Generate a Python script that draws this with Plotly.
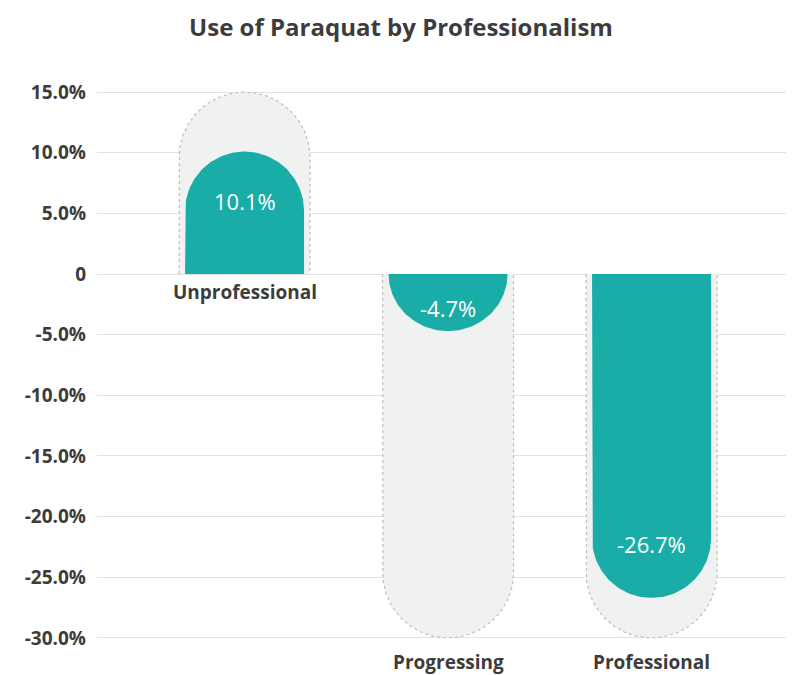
import numpy as np
import plotly.graph_objects as go

# ---- data ----
categories = ["Unprofessional", "Progressing", "Professional"]
values = [10.1, -4.7, -26.7]
value_labels = ["10.1%", "-4.7%", "-26.7%"]
tick_vals = [15, 10, 5, 0, -5, -10, -15, -20, -25, -30]
tick_text = ["15.0%", "10.0%", "5.0%", "0", "-5.0%", "-10.0%",
             "-15.0%", "-20.0%", "-25.0%", "-30.0%"]
axis_max = 15
axis_min = -30

# ---- layout geometry (page has 8px body margin) ----
W, H = 786, 667
ML, MR, MT, MB = 89, 0, 72, 25
Y_RANGE = [-31, 16]
X_RANGE = [-0.725, 2.70]
px_per_y = (H - MT - MB) / (Y_RANGE[1] - Y_RANGE[0])
px_per_x = (W - ML - MR) / (X_RANGE[1] - X_RANGE[0])

TEAL = "#1AADA7"
BG = "#F0F1F1"
BORDER = "#BEBEBE"
DARK = "#3C3C3C"
FONT = "Open Sans"


def pill(cx, y_end, half_px, closed=True):
    rx = half_px / px_per_x
    ry = min(half_px / px_per_y, abs(y_end))
    s = 1 if y_end >= 0 else -1
    yc = y_end - s * ry
    th = np.linspace(np.pi, 0, 80)
    xs = [cx - rx] + list(cx + rx * np.cos(th)) + [cx + rx]
    ys = [0] + list(yc + s * ry * np.sin(th)) + [0]
    if closed:
        xs.append(xs[0])
        ys.append(ys[0])
    return xs, ys


fig = go.Figure()
xpos = list(range(len(categories)))

# background pills
for cx, v in zip(xpos, values):
    end = axis_max if v >= 0 else axis_min
    xs, ys = pill(cx, end, 65.5)
    fig.add_trace(go.Scatter(x=xs, y=ys, mode="lines", fill="toself",
                             fillcolor=BG, line=dict(width=0),
                             hoverinfo="skip", showlegend=False))
    xs, ys = pill(cx, end, 65.5, closed=False)
    fig.add_trace(go.Scatter(x=xs, y=ys, mode="lines",
                             line=dict(color=BORDER, width=1.2, dash="dot"),
                             hoverinfo="skip", showlegend=False))

# teal bars
for cx, v in zip(xpos, values):
    xs, ys = pill(cx, v, 59.5)
    fig.add_trace(go.Scatter(x=xs, y=ys, mode="lines", fill="toself",
                             fillcolor=TEAL, line=dict(width=0),
                             hoverinfo="text", text=f"{v}%", showlegend=False))

annotations = []
for cx, v, lab, cat in zip(xpos, values, value_labels, categories):
    s = 1 if v >= 0 else -1
    ly = v - s * min(4.4, abs(v) * 0.4)
    annotations.append(dict(x=cx, y=ly, xref="x", yref="y", text=lab,
                            showarrow=False,
                            font=dict(family=FONT, size=22, color="white")))
    if v >= 0:
        annotations.append(dict(x=cx, y=0, xref="x", yref="y", text=f"<b>{cat}</b>",
                                showarrow=False, yanchor="top", yshift=-3,
                                font=dict(family=FONT, size=19, color=DARK)))
    else:
        annotations.append(dict(x=cx, y=axis_min, xref="x", yref="y",
                                text=f"<b>{cat}</b>", showarrow=False,
                                yanchor="top", yshift=-9,
                                font=dict(family=FONT, size=19, color=DARK)))

fig.update_layout(
    width=W, height=H,
    margin=dict(l=ML, r=MR, t=MT, b=MB),
    paper_bgcolor="white", plot_bgcolor="white",
    title=dict(text="<b>Use of Paraquat by Professionalism</b>",
               x=0.5, xanchor="center", y=1 - 20 / H, yanchor="middle",
               font=dict(family=FONT, size=24, color=DARK)),
    xaxis=dict(range=X_RANGE, showgrid=False, zeroline=False,
               showticklabels=False, fixedrange=True),
    yaxis=dict(range=Y_RANGE, tickvals=tick_vals, ticktext=tick_text,
               showgrid=True, gridcolor="#E2E2E2", gridwidth=1,
               zeroline=True, zerolinecolor="#E2E2E2", zerolinewidth=1,
               ticklabelstandoff=10,
               tickfont=dict(family=FONT, size=19, color=DARK, weight="bold"),
               fixedrange=True),
    annotations=annotations,
)

fig.write_html("out.html")
